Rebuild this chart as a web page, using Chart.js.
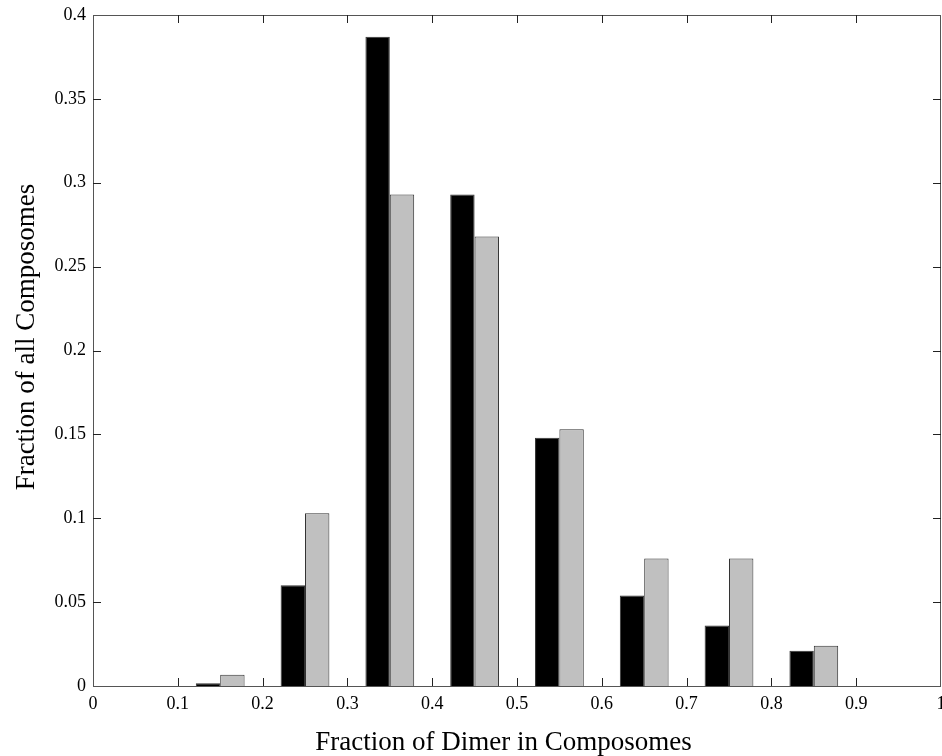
<!DOCTYPE html>
<html>
<head>
<meta charset="utf-8">
<script src="https://cdn.jsdelivr.net/npm/chart.js@4"></script>
<style>
  html, body { margin: 0; padding: 0; background: #fff; }
  #wrap { width: 942px; height: 756px; }
</style>
</head>
<body>
<div id="wrap"><canvas id="histChart" width="942" height="756"></canvas></div>
<script>
// bin centres and fractions
const binCentres = [0.15, 0.25, 0.35, 0.45, 0.55, 0.65, 0.75, 0.85];
const blackSeries = [0.0016, 0.060, 0.387, 0.293, 0.148, 0.054, 0.036, 0.021];
const greySeries = [0.0067, 0.103, 0.293, 0.268, 0.153, 0.076, 0.076, 0.024];
const xTicks = [0, 0.1, 0.2, 0.3, 0.4, 0.5, 0.6, 0.7, 0.8, 0.9, 1];
const yTicks = [0, 0.05, 0.1, 0.15, 0.2, 0.25, 0.3, 0.35, 0.4];

const serif = '"Liberation Serif", "Times New Roman", serif';

function toPoints(vals) {
  return binCentres.map((x, i) => ({ x: x, y: vals[i] }));
}

// MATLAB-style box with inward ticks on all four sides
const boxTicks = {
  id: 'boxTicks',
  afterDraw(chart) {
    const { ctx, chartArea: a, scales } = chart;
    const len = 8;
    ctx.save();
    ctx.strokeStyle = '#555';
    ctx.lineWidth = 1;
    ctx.strokeRect(a.left + 0.5, a.top + 0.5, a.right - a.left - 1, a.bottom - a.top);
    ctx.strokeStyle = '#222';
    ctx.beginPath();
    xTicks.forEach(v => {
      const px = Math.round(scales.x.getPixelForValue(v)) + 0.5;
      if (v === 0 || v === 1) return;
      ctx.moveTo(px, a.bottom); ctx.lineTo(px, a.bottom - len);
      ctx.moveTo(px, a.top); ctx.lineTo(px, a.top + len);
    });
    yTicks.forEach(v => {
      const py = Math.round(scales.y.getPixelForValue(v)) + 0.5;
      if (v === 0 || v === 0.4) return;
      ctx.moveTo(a.left, py); ctx.lineTo(a.left + len, py);
      ctx.moveTo(a.right, py); ctx.lineTo(a.right - len, py);
    });
    ctx.stroke();
    ctx.restore();
  }
};

new Chart(document.getElementById('histChart'), {
  type: 'bar',
  data: {
    datasets: [
      {
        label: 'black',
        data: toPoints(blackSeries),
        backgroundColor: '#000000',
        borderColor: '#333333',
        borderWidth: 1,
        categoryPercentage: 0.575,
        barPercentage: 1.0
      },
      {
        label: 'grey',
        data: toPoints(greySeries),
        backgroundColor: '#c0c0c0',
        borderColor: '#333333',
        borderWidth: 1,
        categoryPercentage: 0.575,
        barPercentage: 1.0
      }
    ]
  },
  options: {
    responsive: false,
    animation: false,
    layout: { padding: { top: 15, right: 1, left: 0, bottom: 0 } },
    plugins: {
      legend: { display: false },
      tooltip: { enabled: false }
    },
    scales: {
      x: {
        type: 'linear',
        min: 0,
        max: 1,
        offset: false,
        grid: { display: false, drawTicks: false },
        border: { display: false },
        afterBuildTicks: s => { s.ticks = xTicks.map(v => ({ value: v })); },
        afterFit: s => { s.height = 70; s.paddingLeft = 0; s.paddingRight = 0; },
        ticks: {
          color: '#000',
          padding: 7,
          maxRotation: 0,
          font: { family: serif, size: 18 },
          callback: v => String(v)
        },
        title: {
          display: true,
          text: 'Fraction of Dimer in Composomes\u00a0\u00a0\u00a0\u00a0',
          color: '#000',
          font: { family: serif, size: 27, lineHeight: 1 },
          padding: { top: 0, bottom: 0 }
        }
      },
      y: {
        min: 0,
        max: 0.4,
        grid: { display: false, drawTicks: false },
        border: { display: false },
        afterBuildTicks: s => { s.ticks = yTicks.map(v => ({ value: v })); },
        afterFit: s => { s.width = 93; s.paddingTop = 0; s.paddingBottom = 0; },
        ticks: {
          color: '#000',
          padding: 7,
          font: { family: serif, size: 18 },
          callback: v => String(v)
        },
        title: {
          display: true,
          text: '\u00a0\u00a0\u00a0\u00a0Fraction of all Composomes',
          color: '#000',
          font: { family: serif, size: 27, lineHeight: 1 },
          padding: { top: 13, bottom: 0 }
        }
      }
    }
  },
  plugins: [boxTicks]
});
</script>
</body>
</html>
